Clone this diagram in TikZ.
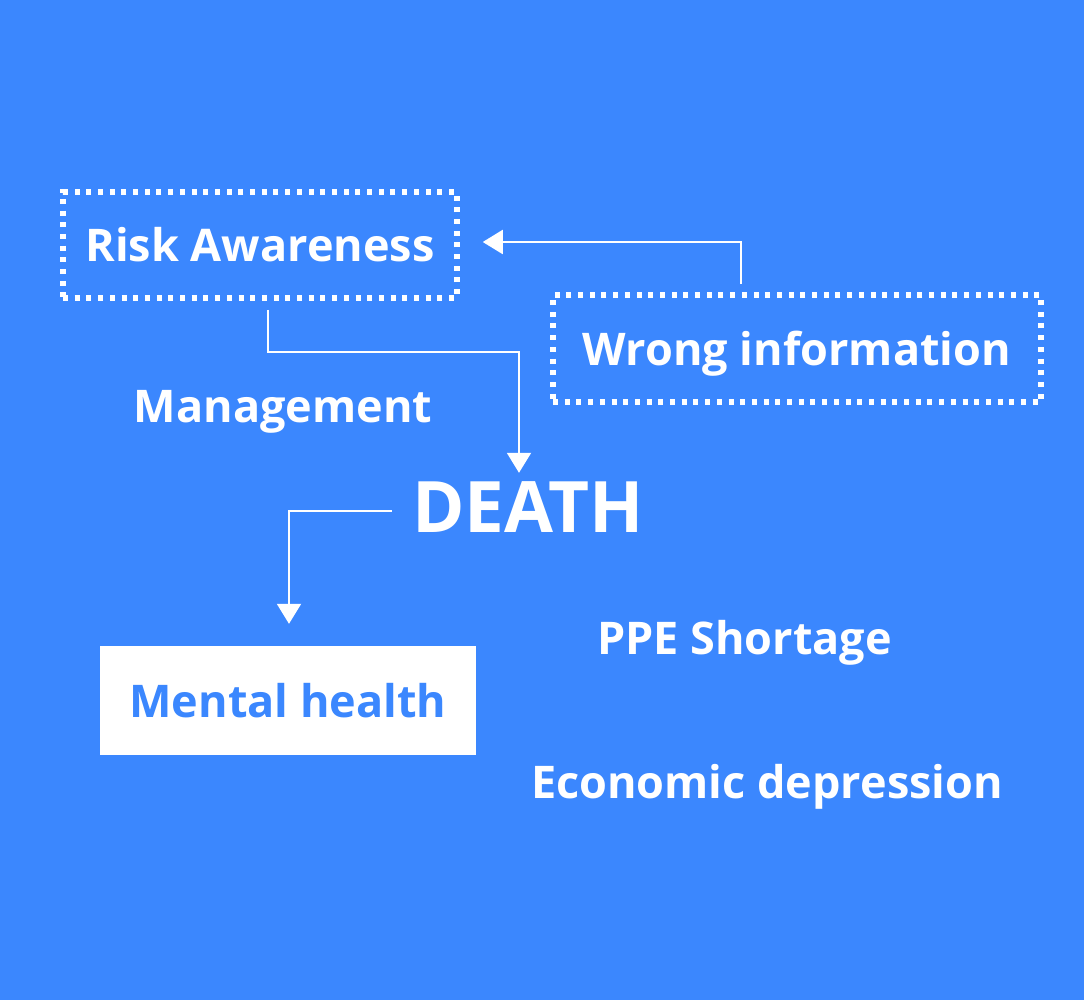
\documentclass[tikz,border=0pt]{standalone}
\usepackage{fontspec}
\setmainfont{Open Sans}
\usepackage{tikz}
\usetikzlibrary{arrows.meta, positioning, calc}
\definecolor{bgblue}{RGB}{59, 135, 254}

\begin{document}
\begin{tikzpicture}[x=1pt, y=-1pt,
    word/.style={text=white, inner sep=0pt, text height=34pt, text depth=0pt,
        font=\fontsize{45}{54}\selectfont\bfseries},
    dotbox/.style={word, draw=white, line width=5.5pt, dash pattern=on 5pt off 6.7pt},
    link/.style={draw=white, line width=2pt, -{Triangle[width=24pt, length=20pt]}}]
    % Background
    \fill[bgblue] (0,0) rectangle (1084,1000);
    \useasboundingbox (0,0) rectangle (1084,1000);

    % Boxes
    \node[dotbox, minimum width=394pt, minimum height=106pt] (risk) at (260,245) {Risk Awareness};
    \node[dotbox, minimum width=488pt, minimum height=107pt] (wrong) at (797,348.5) {Wrong information};
    \node[word, fill=white, text=bgblue, minimum width=376pt, minimum height=109pt] (mental) at (288,700.5) {Mental health};

    % Plain labels
    \node[word, anchor=base] (manage) at (283,422) {Management};
    \node[word, anchor=base, text height=50pt, font=\fontsize{71}{84}\selectfont\bfseries] (death) at (528,532) {DEATH};
    \node[word, anchor=base] (ppe) at (744.5,654) {PPE Shortage};
    \node[word, anchor=base] (econ) at (767,798) {Economic depression};

    % Connectors
    \draw[link] ([shift={(8,9)}]risk.south) -- ++(0,42) -| ([shift={(-9,-9)}]death.north);
    \draw[link] ([shift={(-56,-8)}]wrong.north) |- ([shift={(23,-3)}]risk.east);
    \draw[link] ([shift={(-20,4)}]death.west) -| ([shift={(1,-22)}]mental.north);
\end{tikzpicture}
\end{document}
